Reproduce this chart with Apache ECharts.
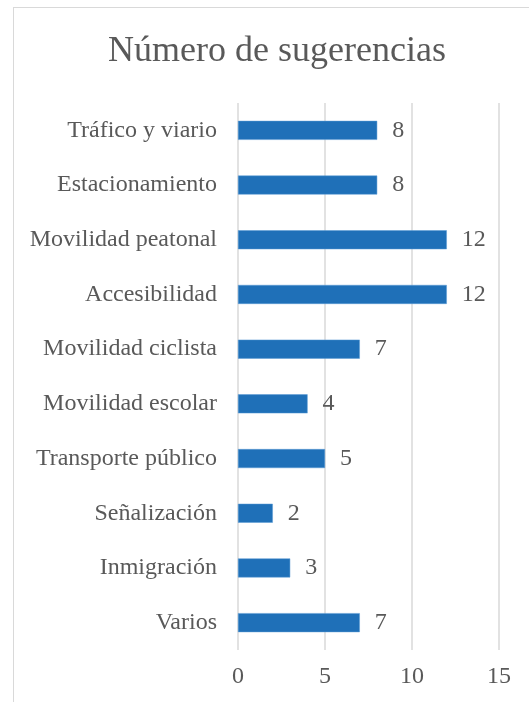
<!DOCTYPE html>
<html>
<head>
<meta charset="utf-8">
<script src="https://cdn.jsdelivr.net/npm/echarts@6/dist/echarts.min.js"></script>
<style>
  html, body { margin: 0; padding: 0; background: #fff; }
  #frame { position: absolute; left: 13px; top: 7px; width: 540px; height: 720px; border: 1.5px solid #d9d9d9; box-sizing: border-box; }
  #chart { position: absolute; left: 0; top: 0; width: 529px; height: 702px; }
</style>
</head>
<body>
<div id="frame"></div>
<div id="chart"></div>
<script>
// categories listed top to bottom as in the picture
const categories = ['Tráfico y viario', 'Estacionamiento', 'Movilidad peatonal', 'Accesibilidad',
    'Movilidad ciclista', 'Movilidad escolar', 'Transporte público', 'Señalización', 'Inmigración', 'Varios'];
const values = [8, 8, 12, 12, 7, 4, 5, 2, 3, 7];
const xTicks = [0, 5, 10, 15];

const chart = echarts.init(document.getElementById('chart'));
const font = '"Liberation Serif", "Times New Roman", serif';

chart.setOption({
    animation: false,
    title: {
        text: 'Número de sugerencias',
        left: 272,
        textAlign: 'center',
        top: 29,
        textStyle: { fontFamily: font, fontSize: 36, fontWeight: 'normal', color: '#595959' }
    },
    grid: { left: 238, right: 30, top: 103, bottom: 52, containLabel: false },
    xAxis: {
        type: 'value',
        min: xTicks[0],
        max: xTicks[xTicks.length - 1],
        interval: 5,
        axisLine: { show: false },
        axisTick: { show: false },
        splitLine: { lineStyle: { color: '#d9d9d9', width: 1.5 } },
        axisLabel: { fontFamily: font, fontSize: 24, color: '#595959', margin: 15 }
    },
    yAxis: {
        type: 'category',
        inverse: true,
        data: categories,
        axisLine: { show: false },
        axisTick: { show: false },
        axisLabel: { fontFamily: font, fontSize: 24, color: '#595959', margin: 21 }
    },
    series: [{
        type: 'bar',
        data: values,
        barWidth: 19,
        itemStyle: { color: '#1f70b8', borderColor: '#5b9bd5', borderWidth: 0.5 },
        label: {
            show: true,
            position: 'right',
            distance: 15,
            fontFamily: font,
            fontSize: 24,
            color: '#595959'
        }
    }]
});
</script>
</body>
</html>
